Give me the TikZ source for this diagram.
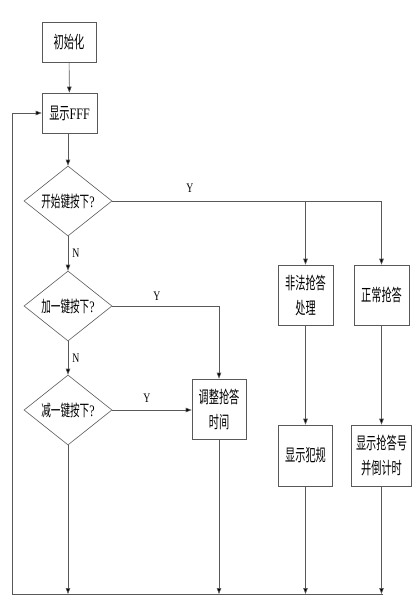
\documentclass[tikz,border=0pt]{standalone}
\usepackage{fontspec}
\setmainfont[FakeStretch=0.75]{Liberation Serif}
\newfontfamily\cjk[FakeStretch=0.6]{Noto Sans CJK SC}
\usetikzlibrary{shapes.geometric,arrows.meta}
\begin{document}
\begin{tikzpicture}[x=1pt,y=-1pt,
  line/.style={draw=black!65,line width=0.6pt},
  arr/.style={line,-{Triangle[length=6pt,width=4.5pt,fill=black]}},
  box/.style={line,rectangle,inner sep=0pt,align=center,font=\fontsize{17}{25}\selectfont\cjk},
  dia/.style={line,diamond,aspect=1.257,minimum width=88pt,minimum height=70pt,inner sep=0pt,font=\fontsize{16}{20}\selectfont\cjk},
  lab/.style={font=\fontsize{13}{15}\selectfont,inner sep=0pt}]
\useasboundingbox (0,0) rectangle (417,605);
\node[box,minimum width=54pt,minimum height=40pt] (init) at (69,42) {初始化};
\node[box,minimum width=55pt,minimum height=40pt] (fff) at (69.5,113) {显示{\rmfamily\fontsize{16}{20}\selectfont FFF}};
\node[dia] (d1) at (68,201) {开始键按下{\rmfamily ?}};
\node[dia] (d2) at (68,306) {加一键按下{\rmfamily ?}};
\node[dia] (d3) at (68,410) {减一键按下{\rmfamily ?}};
\node[box,minimum width=55pt,minimum height=60pt] (fei) at (305.5,295) {非法抢答\\处理};
\node[box,minimum width=55pt,minimum height=60pt] (zc) at (381.5,295) {正常抢答};
\node[box,minimum width=54pt,minimum height=61pt] (fg) at (305.5,455.5) {显示犯规};
\node[box,minimum width=60pt,minimum height=61pt] (hao) at (381.5,455.5) {显示抢答号\\并倒计时};
\node[box,minimum width=54pt,minimum height=60pt] (tz) at (219,409) {调整抢答\\时间};
\node[lab] (y1) at (190,188) {Y};
\node[lab] (y2) at (157,296) {Y};
\node[lab] (y3) at (147,398) {Y};
\node[lab] (n1) at (76,253) {N};
\node[lab] (n2) at (76,358) {N};
\coordinate (b1) at (68,594);
\coordinate (b2) at (219,594);
\coordinate (b3) at (305.5,594);
\coordinate (b4) at (381.5,594);
\coordinate (bl) at (12,594);
\coordinate (br) at (383,594);
\coordinate (tl) at (12,113);
\coordinate (j1) at (305.5,201);
\coordinate (j2) at (381.5,201);
\draw[arr] (init) -- (fff);
\draw[arr] (fff.south -| d1.north) -- (d1.north);
\draw[arr] (d1) -- (d2);
\draw[arr] (d2) -- (d3);
\draw[line] (d1.east) -- (j2);
\draw[arr] (j1) -- (fei);
\draw[arr] (j2) -- (zc);
\draw[arr] (d2.east) -| (tz.north);
\draw[arr] (d3.east) -- (tz.west |- d3.east);
\draw[arr] (fei) -- (fg);
\draw[arr] (zc) -- (hao);
\draw[arr] (d3.south) -- (b1);
\draw[arr] (tz.south) -- (b2);
\draw[arr] (fg.south) -- (b3);
\draw[arr] (hao.south) -- (b4);
\draw[line] (br) -- (bl);
\draw[arr] (bl) -- (tl) -- (fff.west);
\end{tikzpicture}
\end{document}
